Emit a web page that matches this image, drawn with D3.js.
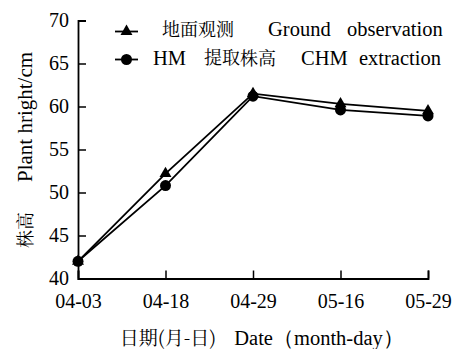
<!DOCTYPE html>
<html>
<head>
<meta charset="utf-8">
<script src="https://cdn.jsdelivr.net/npm/d3@7"></script>
<style>
  html, body { margin: 0; padding: 0; background: #fff; }
  svg { display: block; }
</style>
</head>
<body>
<svg id="chart" width="461" height="349"></svg>
<script>
// Plant height over the growing season: ground observation vs CHM extraction
const dates = ["04-03", "04-18", "04-29", "05-16", "05-29"];
const groundObs = [42.0, 52.2, 61.5, 60.3, 59.5];
const chmExtract = [42.0, 50.8, 61.2, 59.6, 58.9];
const yTicks = [40, 45, 50, 55, 60, 65, 70];

const serif = "Liberation Serif";
const cjk = "Noto Serif CJK SC";

const svg = d3.select("#chart");

const x = d3.scalePoint().domain(dates).range([78, 428]).padding(0);
const y = d3.scaleLinear().domain([40, 70]).range([278.5, 20.5]);

// Apply a font both as attribute and inline style
function font(sel, family, size) {
  return sel.attr("font-family", family).attr("font-size", size)
    .style("font-family", family).style("font-size", size + "px");
}

// Axes with inward ticks
const yAxis = d3.axisLeft(y).tickValues(yTicks).tickSizeInner(-8).tickSizeOuter(-8).tickPadding(9);
const xAxis = d3.axisBottom(x).tickSizeInner(-8).tickSizeOuter(-8).tickPadding(15);

const gy = svg.append("g").attr("transform", `translate(${x(dates[0])},0)`).call(yAxis);
const gx = svg.append("g").attr("transform", `translate(0,${y(40)})`).call(xAxis);

[gx, gy].forEach(g => {
  g.attr("font-family", serif).attr("font-size", 20);
  g.select(".domain").attr("stroke", "#000").attr("stroke-width", 1.8);
  g.selectAll(".tick line").attr("stroke", "#000").attr("stroke-width", 1.5);
  font(g.selectAll(".tick text").attr("fill", "#000"), serif, 20)
    .attr("transform", "rotate(0.01)");
});

// Series lines
const line = d3.line().x((d, i) => x(dates[i])).y(d => y(d));

svg.append("path").datum(groundObs)
  .attr("d", line).attr("fill", "none").attr("stroke", "#000").attr("stroke-width", 1.8);
svg.append("path").datum(chmExtract)
  .attr("d", line).attr("fill", "none").attr("stroke", "#000").attr("stroke-width", 1.8);

const tri = d3.symbol().type(d3.symbolTriangle).size(62);
const circ = d3.symbol().type(d3.symbolCircle).size(95);

svg.append("g").selectAll("path").data(groundObs).join("path")
  .attr("d", tri)
  .attr("transform", (d, i) => `translate(${x(dates[i])},${y(d)})`)
  .attr("fill", "#000");
svg.append("g").selectAll("path").data(chmExtract).join("path")
  .attr("d", circ)
  .attr("transform", (d, i) => `translate(${x(dates[i])},${y(d)})`)
  .attr("fill", "#000");

function label(parent, str, x0, y0, family, size, anchor) {
  return font(parent.append("text"), family, size)
    .attr("x", x0).attr("y", y0)
    .attr("transform", `rotate(0.01,${x0},${y0})`)
    .attr("text-anchor", anchor || "start")
    .attr("fill", "#000")
    .text(str);
}

// Legend
const legend = svg.append("g");
const rows = [
  { sym: tri, sy: 31.5, base: 36, parts: [
    { t: "地面观测", x: 198, f: cjk, s: 18, a: "middle" },
    { t: "Ground", x: 268, f: serif, s: 20.5 },
    { t: "observation", x: 347, f: serif, s: 20.5 }
  ]},
  { sym: circ, sy: 59.5, base: 64.5, parts: [
    { t: "HM", x: 153, f: serif, s: 20.5 },
    { t: "提取株高", x: 240, f: cjk, s: 18, a: "middle" },
    { t: "CHM", x: 301, f: serif, s: 20.5 },
    { t: "extraction", x: 359, f: serif, s: 20.5 }
  ]}
];
rows.forEach(r => {
  legend.append("line")
    .attr("x1", 115).attr("x2", 138).attr("y1", r.sy).attr("y2", r.sy)
    .attr("stroke", "#000").attr("stroke-width", 1.8);
  legend.append("path").attr("d", r.sym)
    .attr("transform", `translate(126.5,${r.sy})`).attr("fill", "#000");
  r.parts.forEach(p => label(legend, p.t, p.x, r.base, p.f, p.s, p.a));
});

// Axis titles
const title = svg.append("g");
label(title, "日期(月-日)", 168, 345, cjk, 19, "middle");
label(title, "Date（month-day）", 319, 345, serif, 20.5, "middle");

const yt = svg.append("g").attr("transform", "translate(32,0) rotate(-90)");
label(yt, "株高", -230, 0, cjk, 18, "middle");
label(yt, "Plant hright/cm", -117, 0, serif, 21, "middle");
</script>
</body>
</html>
